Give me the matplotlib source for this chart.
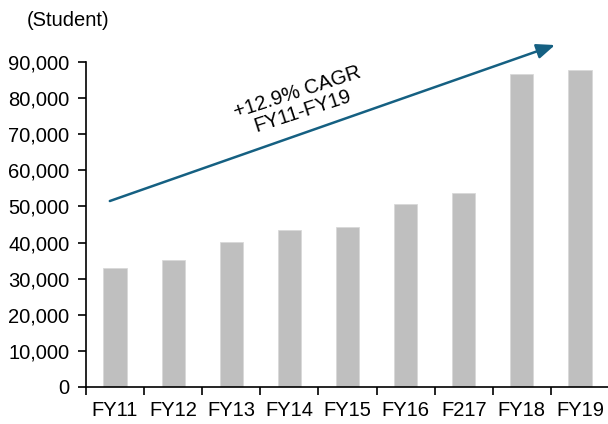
from matplotlib import pyplot as plt
import numpy as np

plt.rcParams["font.family"] = ["Liberation Sans", "DejaVu Sans"]

categories = ["FY11", "FY12", "FY13", "FY14", "FY15", "FY16", "F217", "FY18", "FY19"]
students = [33000, 35100, 40200, 43400, 44400, 50700, 53800, 86800, 87800]
y_ticks = np.arange(0, 90001, 10000)

fig = plt.figure(figsize=(6.08, 4.24), dpi=100)
ax = fig.add_axes([86 / 608, 37 / 424, 523 / 608, 325 / 424])

x = np.arange(len(categories))
ax.bar(x, students, width=0.4, color="#BFBFBF", edgecolor="#D9D9D9", linewidth=0.6)

ax.set_xlim(-0.5, len(categories) - 0.5)
ax.set_ylim(0, 90000)
ax.set_yticks(y_ticks)
ax.set_yticklabels([f"{v:,}" for v in y_ticks])

# category labels centred, tick marks between categories
ax.set_xticks(np.arange(len(categories) + 1) - 0.5)
ax.set_xticklabels([])
ax.set_xticks(x, minor=True)
ax.set_xticklabels(categories, minor=True)
ax.tick_params(axis="x", which="minor", length=0, pad=10, labelsize=14.5)
ax.tick_params(axis="x", which="major", length=6, width=1.2, direction="out")
ax.tick_params(axis="y", length=6, width=1.2, direction="out", labelsize=14.5, pad=6)

for side in ["top", "right"]:
    ax.spines[side].set_visible(False)
for side in ["left", "bottom"]:
    ax.spines[side].set_linewidth(1.2)

# CAGR arrow
ax.annotate(
    "",
    xy=(7.57, 94700),
    xytext=(-0.09, 51500),
    xycoords="data",
    arrowprops=dict(arrowstyle="-|>,head_length=1.1,head_width=0.45",
                    color="#156082", lw=1.8, shrinkA=0, shrinkB=0),
    annotation_clip=False,
)
ax.text(3.18, 79000, "+12.9% CAGR\nFY11-FY19", rotation=18, ha="center", va="center",
        fontsize=14.5, linespacing=1.0, rotation_mode="anchor")

fig.text(27 / 608, 1 - 20 / 424, "(Student)", fontsize=14.5, va="center", ha="left")

fig.savefig("out.png", dpi=100)
